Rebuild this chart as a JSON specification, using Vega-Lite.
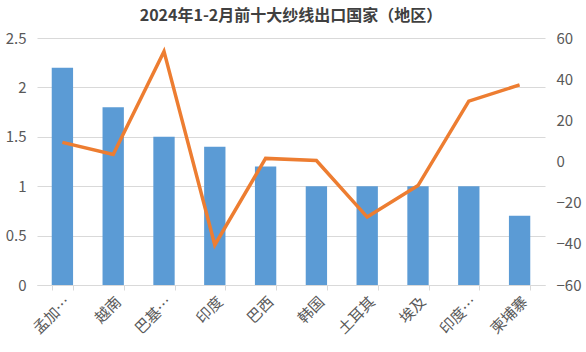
{
  "$schema": "https://vega.github.io/schema/vega-lite/v6.json",
  "width": 508,
  "height": 247,
  "autosize": {"type": "none"},
  "padding": {"left": 37, "top": 38, "right": 41, "bottom": 67},
  "background": "white",
  "title": {
    "text": "2024年1-2月前十大纱线出口国家（地区）",
    "font": "Noto Sans CJK SC",
    "fontSize": 16,
    "fontWeight": "bold",
    "color": "#404040",
    "offset": 7
  },
  "config": {
    "view": {"stroke": null},
    "axis": {"labelFont": "Noto Sans CJK SC", "labelFontSize": 15, "labelColor": "#595959"}
  },
  "data": {
    "values": [
      {"country": "孟加拉国", "volume": 2.2, "growth": 9.3},
      {"country": "越南", "volume": 1.8, "growth": 3.4},
      {"country": "巴基斯坦", "volume": 1.5, "growth": 53.5},
      {"country": "印度", "volume": 1.4, "growth": -40.5},
      {"country": "巴西", "volume": 1.2, "growth": 1.5},
      {"country": "韩国", "volume": 1.0, "growth": 0.5},
      {"country": "土耳其", "volume": 1.0, "growth": -27},
      {"country": "埃及", "volume": 1.0, "growth": -11.7},
      {"country": "印度尼西亚", "volume": 1.0, "growth": 29.3},
      {"country": "柬埔寨", "volume": 0.7, "growth": 37.2}
    ]
  },
  "encoding": {
    "x": {
      "field": "country",
      "type": "nominal",
      "sort": null,
      "scale": {"paddingInner": 0.58, "paddingOuter": 0.29},
      "axis": {
        "title": null,
        "labelAngle": -45,
        "labelFontSize": 15,
        "labelExpr": "length(datum.label) > 3 ? substring(datum.label, 0, 2) + '…' : datum.label",
        "tickBand": "extent",
        "domainColor": "#d9d9d9",
        "tickColor": "#d9d9d9",
        "tickSize": 5,
        "labelPadding": 4
      }
    }
  },
  "layer": [
    {
      "mark": {"type": "bar", "color": "#5B9BD5"},
      "encoding": {
        "y": {
          "field": "volume",
          "type": "quantitative",
          "scale": {"domain": [0, 2.5], "nice": false},
          "axis": {
            "title": null,
            "values": [0, 0.5, 1, 1.5, 2, 2.5],
            "format": "~g",
            "domain": false,
            "ticks": false,
            "gridColor": "#d9d9d9",
            "labelPadding": 11
          }
        }
      }
    },
    {
      "mark": {"type": "line", "color": "#ED7D31", "strokeWidth": 3.5},
      "encoding": {
        "y": {
          "field": "growth",
          "type": "quantitative",
          "scale": {"domain": [-60, 60], "nice": false},
          "axis": {
            "title": null,
            "orient": "right",
            "values": [-60, -40, -20, 0, 20, 40, 60],
            "domain": false,
            "ticks": false,
            "grid": false,
            "labelPadding": 11
          }
        }
      }
    }
  ],
  "resolve": {"scale": {"y": "independent"}}
}
